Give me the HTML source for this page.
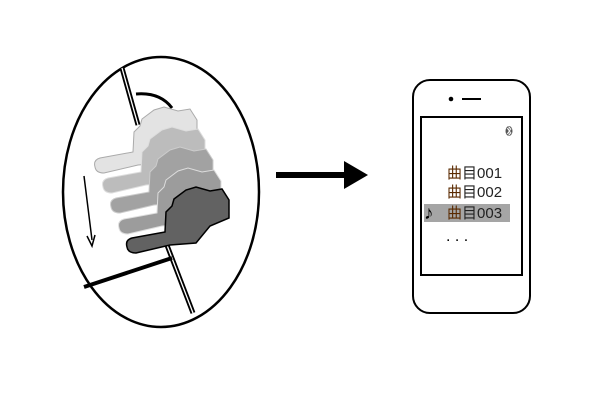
<!DOCTYPE html>
<html><head><meta charset="utf-8"><style>
html,body{margin:0;padding:0;background:#fff;}
svg{display:block}
</style></head><body>
<svg width="600" height="401" viewBox="0 0 600 401" xmlns="http://www.w3.org/2000/svg">
<defs>
<path id="hand" d="M127,247 Q125,240 132,238 L165,232 L166,212 L172,206 L174,199 L186,190 L196,187 L210,191 L222,189 L229,200 L229,218 L210,226 L196,243 L170,245 L136,253 Q128,253 127,247 Z"/>
</defs>
<ellipse cx="161" cy="192" rx="98" ry="135" fill="#fff" stroke="#000" stroke-width="2.5"/>
<line x1="122" y1="68" x2="138" y2="125" stroke="#000" stroke-width="5"/>
<line x1="122" y1="68" x2="138" y2="125" stroke="#fff" stroke-width="1.3"/>
<line x1="165" y1="240" x2="193" y2="313" stroke="#000" stroke-width="5"/>
<line x1="165" y1="240" x2="193" y2="313" stroke="#fff" stroke-width="1.3"/>
<path d="M136,94 Q160,92 172,108" fill="none" stroke="#000" stroke-width="3"/>
<line x1="84" y1="287" x2="172" y2="258" stroke="#000" stroke-width="4"/>
<path d="M84,176 L92,240" stroke="#000" stroke-width="1.5" fill="none"/>
<path d="M87,236 L92,246 L95,235" stroke="#000" stroke-width="1.5" fill="none"/>
<use href="#hand" transform="translate(-32,-80)" fill="#e3e3e3" stroke="#aaa" stroke-width="1"/>
<use href="#hand" transform="translate(-24,-60)" fill="#bcbcbc" stroke="#ddd" stroke-width="1"/>
<use href="#hand" transform="translate(-16,-40)" fill="#a2a2a2" stroke="#ccc" stroke-width="1"/>
<use href="#hand" transform="translate(-8,-19)" fill="#9c9c9c" stroke="#ddd" stroke-width="1"/>
<use href="#hand" fill="#626262" stroke="#000" stroke-width="1.5"/>
<line x1="276" y1="175" x2="346" y2="175" stroke="#000" stroke-width="6"/>
<polygon points="344,161 368,175 344,189" fill="#000"/>
<rect x="413" y="80" width="117" height="233" rx="17" fill="#fff" stroke="#000" stroke-width="2"/>
<circle cx="451" cy="99" r="2.3" fill="#000"/>
<line x1="462" y1="99" x2="481" y2="99" stroke="#000" stroke-width="2"/>
<rect x="421" y="117" width="101" height="158" fill="#fff" stroke="#000" stroke-width="2"/>
<ellipse cx="509" cy="131" rx="3.5" ry="5" fill="#555"/>
<path d="M507,128 L511,133 L509,135 L509,127 L511,129 L507,134" stroke="#fff" stroke-width="0.8" fill="none"/>
<rect x="424" y="204" width="86" height="18" fill="#a5a5a5"/>
<g font-family="Liberation Sans, Noto Sans CJK SC, sans-serif" font-size="15" fill="#222">
<text x="447" y="178"><tspan fill="#5a2a00">曲</tspan>目001</text>
<text x="447" y="197"><tspan fill="#5a2a00">曲</tspan>目002</text>
<text x="447" y="218"><tspan fill="#5a2a00">曲</tspan>目003</text>
<text x="424" y="219" font-size="19" fill="#000">♪</text>
<text x="446" y="241" font-size="16" fill="#000">. . .</text>
</g>
</svg>
</body></html>
